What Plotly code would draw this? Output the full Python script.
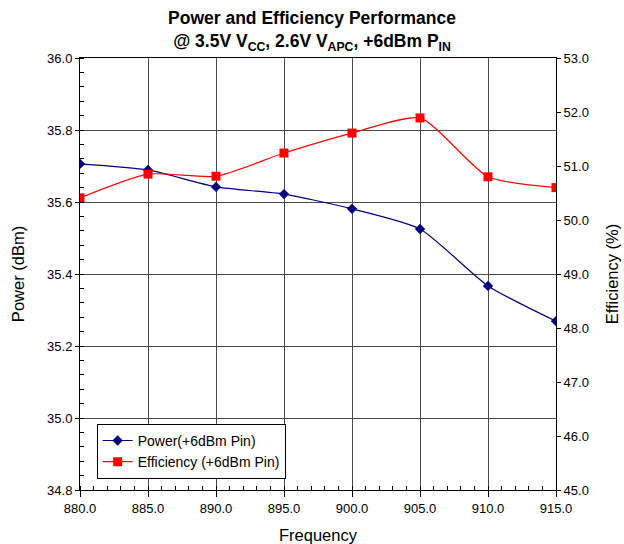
import plotly.graph_objects as go

freq = [880, 885, 890, 895, 900, 905, 910, 915]
power_dbm = [35.706, 35.689, 35.642, 35.622, 35.581, 35.525, 35.367, 35.269]
efficiency_pct = [50.41, 50.85, 50.81, 51.24, 51.61, 51.89, 50.80, 50.60]

FONT = "Liberation Sans, Arial, sans-serif"
GRID = "#4a4a4a"

fig = go.Figure()
fig.add_trace(go.Scatter(
    x=freq, y=power_dbm, name="Power(+6dBm Pin)", mode="lines+markers",
    line=dict(color="#000080", width=1.2, shape="spline", smoothing=0.6),
    marker=dict(symbol="diamond", size=8, color="#000080"),
))
fig.add_trace(go.Scatter(
    x=freq, y=efficiency_pct, name="Efficiency (+6dBm Pin)", mode="lines+markers", yaxis="y2",
    line=dict(color="#ff0000", width=1.2, shape="spline", smoothing=0.6),
    marker=dict(symbol="square", size=9, color="#ff0000"),
))

fig.update_layout(
    width=624, height=544,
    margin=dict(l=80, r=68, t=58, b=54, autoexpand=False),
    paper_bgcolor="white", plot_bgcolor="white",
    font=dict(family=FONT, size=13, color="black"),
    title=dict(
        text="<b>Power and Efficiency Performance<br>@ 3.5V V<sub>CC</sub>, 2.6V V<sub>APC</sub>, +6dBm P<sub>IN</sub></b>",
        x=0.5, xanchor="center", y=0.97, yref="container", yanchor="top",
        pad=dict(t=8),
        font=dict(family=FONT, size=17.5),
    ),
    xaxis=dict(
        range=[880, 915], dtick=5, tickformat=".1f",
        showgrid=True, gridcolor=GRID, gridwidth=1,
        showline=True, linecolor="black", linewidth=1, mirror=True,
        ticks="outside", ticklen=6, tickcolor="black",
        minor=dict(dtick=1, ticks="inside", ticklen=4, tickcolor="black", showgrid=False),
        zeroline=False,
        title=dict(text="Frequency", font=dict(size=16.5), standoff=14),
    ),
    yaxis=dict(
        range=[34.8, 36.0], dtick=0.2, tickformat=".1f",
        showgrid=True, gridcolor=GRID, gridwidth=1,
        showline=True, linecolor="black", linewidth=1,
        ticks="outside", ticklen=4, tickcolor="black",
        minor=dict(dtick=0.04, ticks="inside", ticklen=4, tickcolor="black", showgrid=False),
        zeroline=False,
        title=dict(text="Power (dBm)", font=dict(size=16.5), standoff=18),
    ),
    yaxis2=dict(
        range=[45, 53], dtick=1, tickformat=".1f",
        overlaying="y", side="right", showgrid=False,
        showline=True, linecolor="black", linewidth=1,
        ticks="outside", ticklen=4, tickcolor="black",
        zeroline=False,
        title=dict(text="Efficiency (%)", font=dict(size=16.5), standoff=18),
    ),
    legend=dict(
        x=0.035, y=0.153, xanchor="left", yanchor="top",
        bgcolor="white", bordercolor="black", borderwidth=1,
        font=dict(family=FONT, size=14),
    ),
)

fig.write_html(
    "out.html",
    config={"displayModeBar": False},
    post_script="document.body.style.margin='0';",
)
